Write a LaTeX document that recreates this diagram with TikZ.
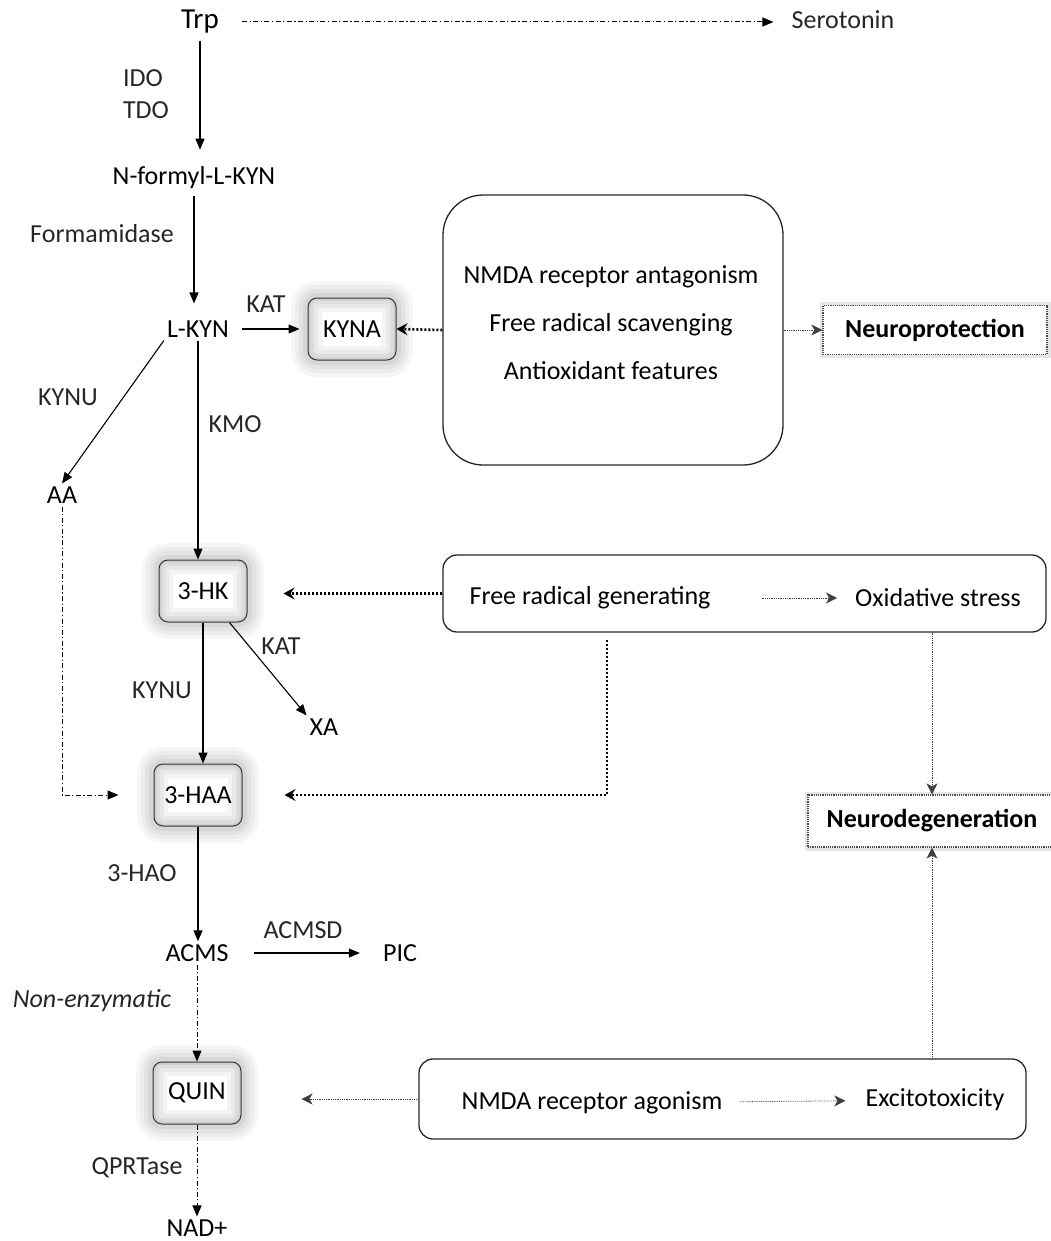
\documentclass[tikz,border=0pt]{standalone}
\usepackage{fontspec}
\setmainfont{Carlito}
\usetikzlibrary{arrows.meta,positioning}

\begin{document}
\begin{tikzpicture}[x=1pt,y=-1pt,
    every node/.style={font=\fontsize{26}{30}\selectfont},
    met/.style={inner sep=3pt},
    enz/.style={inner sep=3pt, text=black!85},
    arr/.style={line width=1.1pt, -{Triangle[length=11pt,width=9pt]}},
    dashdot/.style={line width=1pt, dash pattern=on 5pt off 2.5pt on 1.2pt off 2.5pt, -{Triangle[length=11pt,width=9pt]}},
    thickdot/.style={line width=2.6pt, dash pattern=on 2pt off 2pt, -{Stealth[length=11pt,width=12pt,inset=4pt]}},
    thindot/.style={line width=0.8pt, densely dotted, draw=black!75, -{Stealth[length=11pt,width=11pt,inset=3pt]}},
    glowbox/.style={draw=black!80, line width=1pt, rounded corners=9pt,
        minimum width=88pt, minimum height=62pt, fill=white,
        preaction={draw=gray!7, line width=34pt},
        preaction={draw=gray!14, line width=26pt},
        preaction={draw=gray!22, line width=18pt},
        preaction={draw=gray!31, line width=10pt},
        path picture={
          \foreach \w/\c in {28/9,20/17,12/27,5/38}
            \draw[gray!\c, line width=\w pt, rounded corners=9pt]
              (path picture bounding box.south west) rectangle (path picture bounding box.north east);}},
    bigbox/.style={draw=black!85, line width=1.3pt, rounded corners=14pt},
    outbox/.style={draw=black!70, densely dotted, line width=1.2pt, fill=white,
        preaction={draw=gray!20, line width=7pt, solid}}
]
\useasboundingbox (0,0) rectangle (1051,1241);

% tryptophan branch
\node[met, font=\fontsize{29}{32}\selectfont] (trp) at (200,22) {Trp};
\node[enz] (ser) at (843,20) {Serotonin};
\node[enz, align=left, font=\fontsize{26}{32}\selectfont] (idotdo) at (146,94) {IDO\\TDO};
\node[met] (nfk) at (194,178) {N-formyl-L-KYN};
\node[enz] (fam) at (102,234) {Formamidase};
\node[met] (lkyn) at (198,329) {L-KYN};
\node[enz] (kat1) at (266,304) {KAT};
\node[glowbox] (kyna) at (352,329) {KYNA};

% kynurenic acid effects
\node[bigbox, rounded corners=40pt, minimum width=340pt, minimum height=270pt] (kbox) at (613,330) {};
\node[met, align=center, font=\fontsize{26}{48}\selectfont] (kbtxt) at (611,323)
    {NMDA receptor antagonism\\Free radical scavenging\\Antioxidant features};
\node[outbox, minimum width=224pt, minimum height=49pt] (nprot) at (935,330) {\bfseries Neuroprotection};

% 3-HK branch
\node[enz] (kynu1) at (68,397) {KYNU};
\node[met] (aa) at (62,495) {AA};
\node[enz] (kmo) at (235,424) {KMO};
\node[glowbox] (hk) at (203,591) {3-HK};
\node[bigbox, minimum width=603pt, minimum height=77pt] (frbox) at (744.5,593.5) {};
\node[met] (frg) at (590,598) {Free radical generating};
\node[met] (oxs) at (938,598) {Oxidative stress};
\node[enz] (kat2) at (281,646) {KAT};
\node[met] (xa) at (324,727) {XA};
\node[enz] (kynu2) at (162,690) {KYNU};
\node[glowbox] (haa) at (198,795) {3-HAA};
\node[outbox, minimum width=248pt, minimum height=52pt] (ndeg) at (932,821) {\bfseries Neurodegeneration};

% quinolinic acid branch
\node[enz] (hao) at (142,873) {3-HAO};
\node[met] (acms) at (197,953) {ACMS};
\node[enz] (acmsd) at (303,930) {ACMSD};
\node[met] (pic) at (400,953) {PIC};
\node[enz] (nonenz) at (92,1001) {\itshape Non-enzymatic};
\node[glowbox] (quin) at (197,1093) {QUIN};
\node[bigbox, minimum width=607pt, minimum height=80pt] (nmbox) at (722.5,1099) {};
\node[met] (nmag) at (592,1103) {NMDA receptor agonism};
\node[met] (exc) at (935,1100) {Excitotoxicity};
\node[enz] (qprt) at (137,1168) {QPRTase};
\node[met] (nad) at (197,1228) {NAD+};

% connectors
\draw[dashdot, shorten <=20pt, shorten >=15pt] (trp.east) -- (trp.east -| ser.west);
\draw[arr, shorten <=4pt, shorten >=14pt] (trp.south) -- (trp.south |- nfk.north);
\draw[arr, shorten <=4pt, shorten >=14pt] (nfk.south) -- (nfk.south |- lkyn.north);
\draw[arr, shorten <=10pt, shorten >=8pt] (lkyn.east) -- (kyna.west);
\draw[thickdot] (kbox.west) -- (kyna.east);
\draw[thindot] (kbox.east) -- (nprot.west);
\draw[arr] (lkyn.south west) -- (aa.north);
\draw[arr] (lkyn.south) -- (lkyn.south |- hk.north);
\draw[thickdot, shorten >=36pt] (frbox.west) -- (frbox.west -| hk.east);
\draw[thindot, shorten <=48pt, shorten >=15pt] (frg) -- (oxs);
\draw[arr] ([xshift=-18pt]hk.south east) -- (xa.north west);
\draw[arr] (hk.south) -- (hk.south |- haa.north);
\coordinate (frdrop) at (607,640);
\draw[thickdot, shorten >=42pt] (frdrop) |- (haa.east);
\draw[thindot] (frbox.south -| ndeg.north) -- (ndeg.north);
\draw[dashdot, shorten >=35pt] (aa.south) |- (haa.west);
\draw[arr] (haa.south) -- (haa.south |- acms.north);
\draw[arr, shorten <=22pt, shorten >=20pt] (acms.east) -- (pic.west);
\draw[dashdot] (acms.south) -- (acms.south |- quin.north);
\draw[thindot, shorten >=60pt] (nmbox.west) -- (nmbox.west -| quin.east);
\draw[thindot, shorten <=14pt, shorten >=17pt] (nmag) -- (exc);
\draw[thindot] (nmbox.north -| ndeg.south) -- (ndeg.south);
\draw[dashdot] (quin.south) -- (quin.south |- nad.north);
\end{tikzpicture}
\end{document}
